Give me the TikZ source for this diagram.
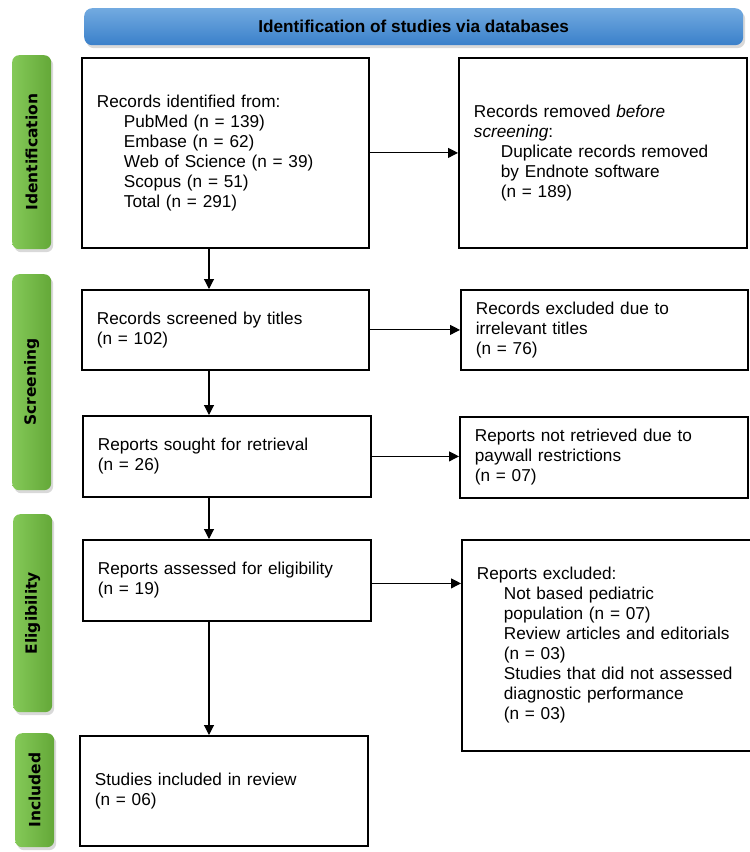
\documentclass[tikz,border=0pt]{standalone}
\usepackage{fontspec}
\setmainfont{Liberation Sans}
\newfontfamily\barfont{DejaVu Sans}
\usetikzlibrary{arrows.meta,shadows,positioning}
\definecolor{hdtop}{RGB}{114,170,224}
\definecolor{hdbot}{RGB}{58,128,202}
\definecolor{grnL}{RGB}{132,201,88}
\definecolor{grnR}{RGB}{100,168,56}
\newcommand{\ind}{\hspace*{27pt}}

\begin{document}
\begin{tikzpicture}[x=1pt,y=-1pt,
	box/.style={draw,line width=1.8pt,anchor=north west,inner xsep=15pt,inner ysep=0pt,align=left,font=\fontsize{17.2}{20}\selectfont},
	arr/.style={-{Triangle[length=10pt,width=10pt]},line width=1.1pt},
	phase/.style={rounded corners=7pt,left color=grnL,right color=grnR,anchor=north west,inner sep=0pt,minimum width=39pt,
		drop shadow={opacity=0.3,shadow xshift=2pt,shadow yshift=-3pt}},
	phaselabel/.style={rotate=90,font=\barfont\bfseries\fontsize{15.5}{17}\selectfont}]
	\useasboundingbox (0,0) rectangle (750,852);
	\node[rounded corners=8pt,top color=hdtop,bottom color=hdbot,anchor=north west,minimum width=659pt,minimum height=37pt,
		drop shadow={opacity=0.3,shadow xshift=2pt,shadow yshift=-3pt},font=\bfseries\fontsize{17.2}{20}\selectfont] (head) at (84,8) {Identification of studies via databases};
	\node[phase,minimum height=194pt] (idbar) at (12,55) {};
	\node[phase,minimum height=216pt] (scbar) at (12,274) {};
	\node[phase,minimum height=198pt] (elbar) at (13,514) {};
	\node[phase,minimum height=114pt] (inbar) at (15,733) {};
	\node[phaselabel] (idlab) at (idbar.center) {Identification};
	\node[phaselabel] (sclab) at (scbar.center) {Screening};
	\node[phaselabel] (ellab) at (elbar.center) {Eligibility};
	\node[phaselabel] (inlab) at (inbar.center) {Included};
	\node[box,text width=257pt,minimum height=190pt] (ident) at (81,57) {Records identified from:\\
		\ind PubMed (n = 139)\\
		\ind Embase (n = 62)\\
		\ind Web of Science (n = 39)\\
		\ind Scopus (n = 51)\\
		\ind Total (n = 291)};
	\node[box,text width=258pt,minimum height=190pt] (removed) at (458,57) {Records removed \textit{before}\\
		\textit{screening}:\\
		\ind Duplicate records removed\\
		\ind by Endnote software\\
		\ind (n = 189)};
	\node[box,text width=257pt,minimum height=80pt] (screen) at (81,289) {Records screened by titles\\(n = 102)};
	\node[box,text width=257pt,minimum height=80pt] (titles) at (460,289) {Records excluded due to\\irrelevant titles\\(n = 76)};
	\node[box,text width=258pt,minimum height=81pt] (sought) at (82,415) {Reports sought for retrieval\\(n = 26)};
	\node[box,text width=258pt,minimum height=81pt] (notret) at (459,416) {Reports not retrieved due to\\paywall restrictions\\(n = 07)};
	\node[box,text width=258pt,minimum height=81pt] (assess) at (82,539) {Reports assessed for eligibility\\(n = 19)};
	\node[box,text width=259pt,minimum height=211pt] (excl) at (461,539) {Reports excluded:\\
		\ind Not based pediatric\\
		\ind population (n = 07)\\
		\ind Review articles and editorials\\
		\ind (n = 03)\\
		\ind Studies that did not assessed\\
		\ind diagnostic performance\\
		\ind (n = 03)};
	\node[box,text width=258pt,minimum height=110pt] (incl) at (79,735) {Studies included in review\\(n = 06)};
	\coordinate (ax) at (209,0);
	\draw[arr] (ident.east) -- (removed.west);
	\draw[arr] (screen.east) -- (titles.west);
	\draw[arr] (sought.east) -- (sought.east -| notret.west);
	\draw[arr] ([yshift=-3pt]assess.east) -- ([yshift=-3pt]assess.east -| excl.west);
	\draw[arr] (ident.south -| ax) -- (screen.north -| ax);
	\draw[arr] (screen.south -| ax) -- (sought.north -| ax);
	\draw[arr] (sought.south -| ax) -- (assess.north -| ax);
	\draw[arr] (assess.south -| ax) -- (incl.north -| ax);
\end{tikzpicture}
\end{document}
